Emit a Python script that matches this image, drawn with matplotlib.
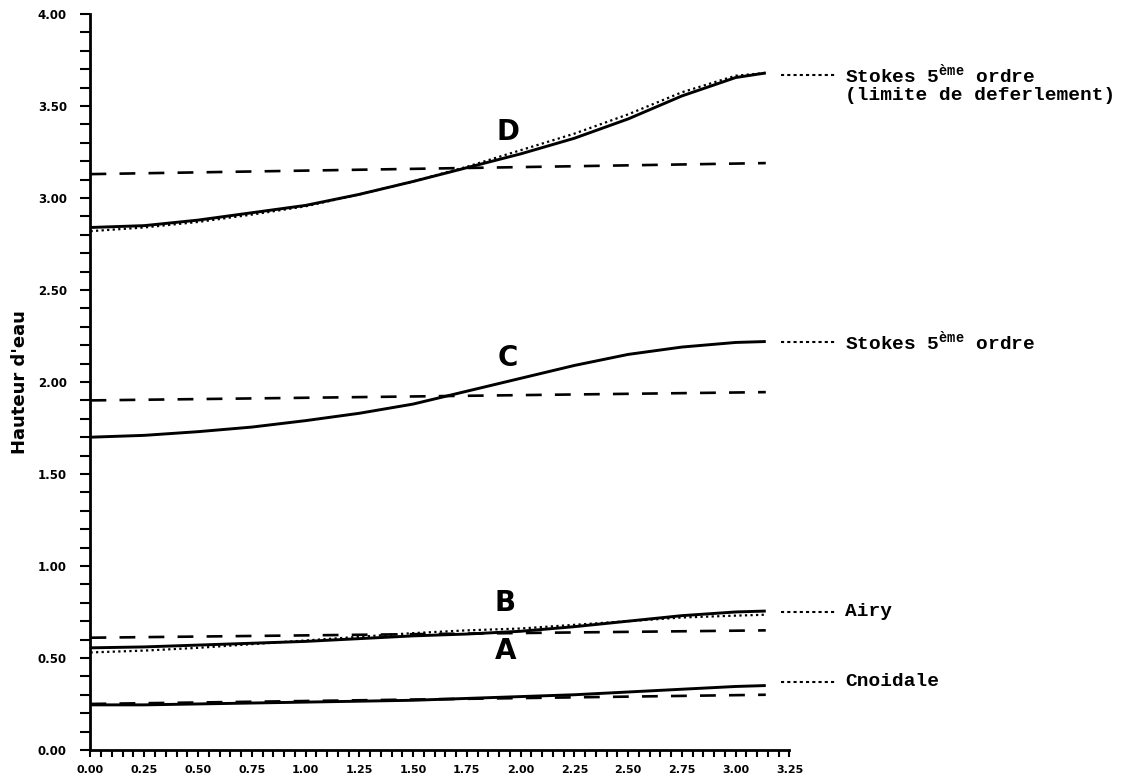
import numpy as np
import matplotlib
matplotlib.use('Agg')
import matplotlib.pyplot as plt
from matplotlib.ticker import MultipleLocator, FormatStrFormatter

plt.rcParams['mathtext.fontset'] = 'custom'
plt.rcParams['mathtext.rm'] = 'Liberation Mono:bold'

# phase positions (0 .. pi)
x = [0.0, 0.25, 0.5, 0.75, 1.0, 1.25, 1.5, 1.75, 2.0, 2.25, 2.5, 2.75, 3.0, 3.14]

# computed profiles (solid)
a_solid = [0.245, 0.245, 0.25, 0.255, 0.26, 0.265, 0.27, 0.28, 0.29, 0.30, 0.315, 0.33, 0.345, 0.35]
b_solid = [0.555, 0.56, 0.57, 0.58, 0.59, 0.605, 0.62, 0.63, 0.645, 0.67, 0.70, 0.73, 0.75, 0.755]
c_solid = [1.70, 1.71, 1.73, 1.755, 1.79, 1.83, 1.88, 1.95, 2.02, 2.09, 2.15, 2.19, 2.215, 2.22]
d_solid = [2.84, 2.85, 2.88, 2.92, 2.96, 3.02, 3.09, 3.165, 3.24, 3.325, 3.43, 3.555, 3.655, 3.68]

# theory (dotted)
b_dot = [0.53, 0.54, 0.555, 0.575, 0.595, 0.615, 0.635, 0.65, 0.66, 0.68, 0.70, 0.72, 0.73, 0.735]
d_dot = [2.82, 2.84, 2.87, 2.91, 2.955, 3.02, 3.09, 3.17, 3.26, 3.35, 3.455, 3.575, 3.665, 3.68]

# dashed levels (start, end)
x_dash = [0.0, 3.14]
a_dash = [0.25, 0.30]
b_dash = [0.61, 0.65]
c_dash = [1.90, 1.945]
d_dash = [3.13, 3.19]

letters = ['A', 'B', 'C', 'D']
letter_x = [1.93, 1.93, 1.94, 1.94]
letter_y = [0.54, 0.80, 2.13, 3.36]

sup = 'Stokes 5$^{\\mathrm{ème}}$ ordre'
notes = ['Cnoidale', 'Airy', sup, sup]
note_y = [0.37, 0.75, 2.22, 3.67]

fig = plt.figure(figsize=(11.31, 7.82), dpi=100)
ax = fig.add_axes([0.08, 0.041, 0.618, 0.941])

for ys in [a_solid, b_solid, c_solid, d_solid]:
    ax.plot(x, ys, color='black', lw=2.1, solid_capstyle='butt')
for ys in [b_dot, d_dot]:
    ax.plot(x, ys, color='black', lw=1.6, linestyle=(0, (1, 1.5)))
for ys in [a_dash, b_dash, c_dash, d_dash]:
    ax.plot(x_dash, ys, color='black', lw=1.9, linestyle=(0, (6, 5)))

for s, lx, ly in zip(letters, letter_x, letter_y):
    ax.text(lx, ly, s, fontsize=20, fontweight='bold', ha='center', va='center',
            family='DejaVu Sans')

# right side annotations
for s, ny in zip(notes, note_y):
    ax.plot([3.21, 3.46], [ny, ny], color='black', lw=1.5, linestyle=(0, (1.5, 1.5)),
            clip_on=False)
    ax.text(3.51, ny, s, fontsize=14, fontweight='bold', ha='left', va='center',
            family='Liberation Mono')
ax.text(3.51, 3.56, '(limite de deferlement)', fontsize=14, fontweight='bold',
        ha='left', va='center', family='Liberation Mono')

ax.set_xlim(0, 3.25)
ax.set_ylim(0, 4.0)
ax.spines['top'].set_visible(False)
ax.spines['right'].set_visible(False)
ax.spines['left'].set_linewidth(2)
ax.spines['bottom'].set_linewidth(2)

ax.xaxis.set_major_locator(MultipleLocator(0.25))
ax.xaxis.set_minor_locator(MultipleLocator(0.05))
ax.yaxis.set_major_locator(MultipleLocator(0.5))
ax.yaxis.set_minor_locator(MultipleLocator(0.1))
ax.xaxis.set_major_formatter(FormatStrFormatter('%.2f'))
ax.yaxis.set_major_formatter(FormatStrFormatter('%.2f'))
ax.tick_params(which='both', direction='out', width=1.5, colors='black')
ax.tick_params(axis='y', which='both', length=7)
ax.tick_params(axis='x', which='both', length=5)
ax.tick_params(axis='y', which='major', labelsize=8.5, pad=10)
ax.tick_params(axis='x', which='major', labelsize=8, pad=6)
for lab in ax.get_xticklabels() + ax.get_yticklabels():
    lab.set_fontweight('bold')

ax.set_ylabel("Hauteur d'eau", fontsize=13, fontweight='bold', labelpad=6)

fig.savefig('out.png', dpi=100)
